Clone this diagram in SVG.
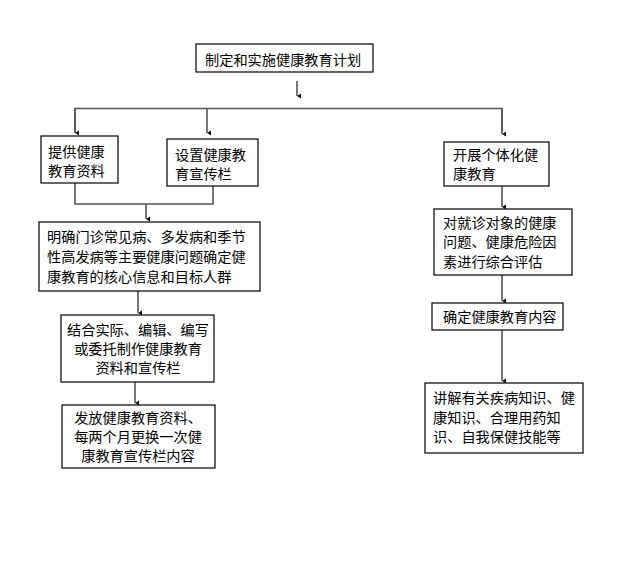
<svg xmlns="http://www.w3.org/2000/svg" width="628" height="563" viewBox="0 0 628 563">
<defs>
<marker id="ah" markerWidth="6" markerHeight="6" refX="3" refY="5" orient="auto-start-reverse" markerUnits="userSpaceOnUse" viewBox="0 0 6 6">
<path d="M0.5,1 L3,5 L5.5,1 Z" fill="#111"/>
</marker>
<style>
.box{fill:#fff;stroke:#000;stroke-width:1.2}
.t{font-family:"Noto Sans CJK SC","Liberation Sans",sans-serif;font-size:14.2px;fill:#000}
.m{text-anchor:middle}
.c{fill:none;stroke:#555;stroke-width:1.6}
.a{marker-end:url(#ah)}
</style>
</defs>
<rect width="628" height="563" fill="#fff"/>
<g id="connectors">
<line class="c a" x1="297" y1="81" x2="297" y2="96"/>
<polyline class="c" points="75,132 75,108.5 502,108.5 502,132"/>
<line class="c a" x1="75" y1="109" x2="75" y2="133"/>
<line class="c a" x1="207" y1="109" x2="207" y2="133"/>
<line class="c a" x1="502" y1="109" x2="502" y2="134"/>
<polyline class="c" points="75,183 75,204 213,204 213,186"/>
<line class="c a" x1="146" y1="204" x2="146" y2="219"/>
<line class="c a" x1="138" y1="291" x2="138" y2="313"/>
<line class="c a" x1="135" y1="382" x2="135" y2="403"/>
<line class="c a" x1="502" y1="186" x2="502" y2="207"/>
<line class="c a" x1="502" y1="275" x2="502" y2="301"/>
<line class="c a" x1="502" y1="330" x2="502" y2="381"/>
</g>
<g id="n_plan">
<rect class="box" x="196" y="44" width="177" height="28"/>
<text class="t" x="205" y="65">制定和实施健康教育计划</text>
</g>
<g id="n_provide">
<rect class="box" x="41" y="136" width="77" height="47"/>
<text class="t" x="48" y="157">提供健康</text>
<text class="t" x="48" y="176">教育资料</text>
</g>
<g id="n_board">
<rect class="box" x="167" y="139" width="91" height="47"/>
<text class="t" x="175" y="160">设置健康教</text>
<text class="t" x="175" y="179">育宣传栏</text>
</g>
<g id="n_identify">
<rect class="box" x="39" y="222" width="221" height="69"/>
<text class="t" x="47" y="242">明确门诊常见病、多发病和季节</text>
<text class="t" x="47" y="262">性高发病等主要健康问题确定健</text>
<text class="t" x="47" y="282">康教育的核心信息和目标人群</text>
</g>
<g id="n_edit">
<rect class="box" x="61" y="315" width="153" height="67"/>
<text class="t m" x="138" y="335">结合实际、编辑、编写</text>
<text class="t m" x="138" y="354">或委托制作健康教育</text>
<text class="t m" x="138" y="373">资料和宣传栏</text>
</g>
<g id="n_distribute">
<rect class="box" x="62" y="405" width="153" height="63"/>
<text class="t m" x="138" y="423">发放健康教育资料、</text>
<text class="t m" x="138" y="442">每两个月更换一次健</text>
<text class="t m" x="138" y="461">康教育宣传栏内容</text>
</g>
<g id="n_individual">
<rect class="box" x="444" y="142" width="105" height="44"/>
<text class="t" x="453" y="160">开展个体化健</text>
<text class="t" x="453" y="179">康教育</text>
</g>
<g id="n_assess">
<rect class="box" x="434" y="209" width="138" height="66"/>
<text class="t" x="443" y="228">对就诊对象的健康</text>
<text class="t" x="443" y="247">问题、健康危险因</text>
<text class="t" x="443" y="267">素进行综合评估</text>
</g>
<g id="n_content">
<rect class="box" x="432" y="303" width="131" height="27"/>
<text class="t" x="443" y="322">确定健康教育内容</text>
</g>
<g id="n_explain">
<rect class="box" x="425" y="383" width="158" height="70"/>
<text class="t" x="433" y="403">讲解有关疾病知识、健</text>
<text class="t" x="433" y="423">康知识、合理用药知</text>
<text class="t" x="433" y="442">识、自我保健技能等</text>
</g>
</svg>
